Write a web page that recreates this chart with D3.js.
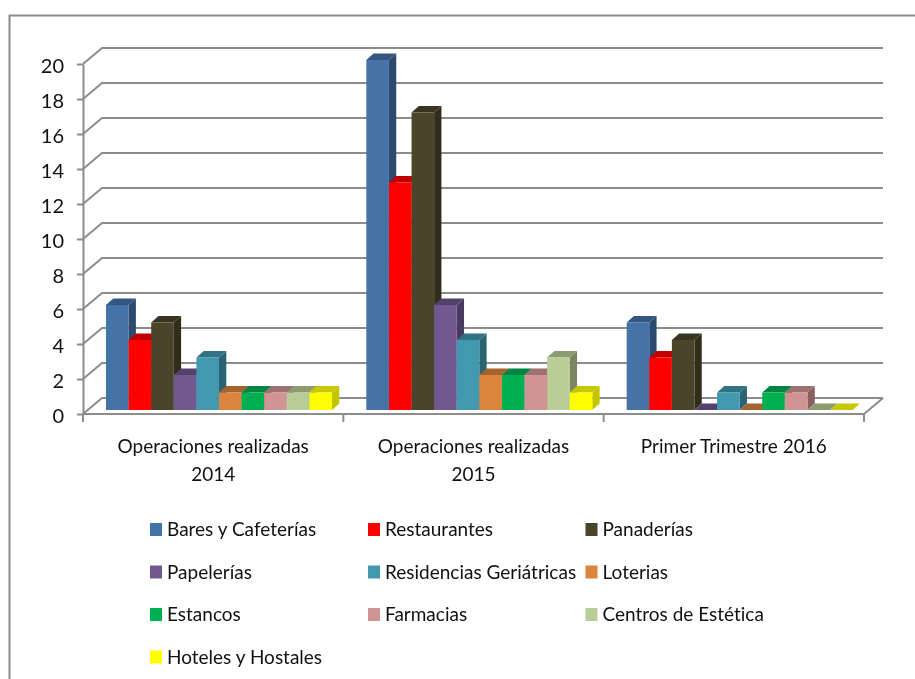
<!DOCTYPE html>
<html>
<head>
<meta charset="utf-8">
<script src="https://cdn.jsdelivr.net/npm/d3@7/dist/d3.min.js"></script>
<style>
  html, body { margin: 0; padding: 0; background: #fff; overflow: hidden; }
  svg { display: block; filter: blur(0.45px); }
  text { font-family: Lato, "Open Sans", sans-serif; fill: #111; font-variant-ligatures: none; }
</style>
</head>
<body>
<svg id="chart" width="915" height="679"></svg>
<script>
var categories = [['Operaciones realizadas', '2014'], ['Operaciones realizadas', '2015'], ['Primer Trimestre 2016']];
var seriesNames = ['Bares y Cafeterías', 'Restaurantes', 'Panaderías', 'Papelerías', 'Residencias Geriátricas', 'Loterias', 'Estancos', 'Farmacias', 'Centros de Estética', 'Hoteles y Hostales'];
var values2014 = [6, 4, 5, 2, 3, 1, 1, 1, 1, 1];
var values2015 = [20, 13, 17, 6, 4, 2, 2, 2, 3, 1];
var values2016 = [5, 3, 4, 0, 1, 0, 1, 1, 0, 0];
var frontColors = ['#4572a7', '#ff0000', '#4a452a', '#71588f', '#4198af', '#db843d', '#00b050', '#d09494', '#b9cd96', '#ffff00'];
var sideColors = ['#2c4a6e', '#a60000', '#312d1b', '#4a3a5e', '#2a6372', '#8f5628', '#007334', '#886060', '#798662', '#c4c400'];
var topColors = ['#345681', '#c00000', '#38341f', '#55426c', '#317284', '#a5632e', '#008442', '#a07070', '#8c9b71', '#c8c800'];
var yTicks = d3.range(0, 21, 2);

var svg = d3.select('#chart');

var axisX0 = 83, axisX1 = 864, axisY0 = 414, axisY20 = 64;
var depthX = 19, depthY = 16;   // floor depth
var barDepthX = 7.3, barDepthY = 6.5;
var textSize = 20, textSquash = 0.95;

var x = d3.scaleBand().domain([0, 1, 2]).range([axisX0, axisX1]);
var y = d3.scaleLinear().domain([0, 20]).range([axisY0, axisY20]);
var xInner = d3.scaleBand().domain(d3.range(seriesNames.length)).range([23, 249]);
var gridColor = '#8c8c8c';

function label(px, py, str, anchor) {
  return svg.append('text')
    .attr('transform', 'translate(' + px + ',' + py + ') scale(' + textSquash + ',1)')
    .attr('text-anchor', anchor)
    .attr('font-size', textSize)
    .text(str);
}

// outer frame, only top and left show
svg.append('path')
  .attr('d', 'M9.5,679V15.5H915')
  .attr('fill', 'none').attr('stroke', gridColor).attr('stroke-width', 2);

// back wall lines
var grid = svg.append('g').attr('fill', 'none').attr('stroke', gridColor).attr('stroke-width', 2);
yTicks.forEach(function(t) {
  grid.append('path').attr('d', d3.line()([
    [axisX0, y(t)], [axisX0 + depthX, y(t) - depthY], [axisX1 + depthX, y(t) - depthY]
  ]));
});
// floor
grid.append('path').attr('d', d3.line()([
  [axisX0, axisY0], [axisX1, axisY0], [axisX1 + depthX, axisY0 - depthY]
]));

// axes
var yAxis = d3.axisLeft(y).tickValues(yTicks).tickSize(6).tickPadding(13).tickSizeOuter(0);
var yG = svg.append('g').attr('transform', 'translate(' + axisX0 + ',0)').call(yAxis);
yG.selectAll('line, path').attr('stroke', gridColor).attr('stroke-width', 2);
yG.selectAll('text').attr('font-size', textSize).attr('fill', '#111').attr('dy', '0.4em');

var xTicks = svg.append('g').attr('stroke', gridColor).attr('stroke-width', 2);
[0, 1, 2].forEach(function(c) {
  xTicks.append('line').attr('x1', x(c)).attr('x2', x(c)).attr('y1', axisY0).attr('y2', axisY0 + 8);
});
xTicks.append('line').attr('x1', axisX1).attr('x2', axisX1).attr('y1', axisY0).attr('y2', axisY0 + 8);

// category labels
categories.forEach(function(lines, c) {
  lines.forEach(function(line, i) {
    label(x(c) + x.bandwidth() / 2, 453 + i * 28, line, 'middle');
  });
});

// bars, drawn left to right so the next front covers the previous side
var baseY = y(0) - 4;
function drawBars(values, c) {
  var g = svg.append('g');
  values.forEach(function(v, i) {
    var x0 = x(c) + xInner(i), x1 = x0 + xInner.bandwidth();
    var top = baseY - (y(0) - y(v));
    g.append('path').attr('fill', sideColors[i]).attr('d', d3.line()([
      [x1, top], [x1 + barDepthX, top - barDepthY], [x1 + barDepthX, baseY - barDepthY], [x1, baseY]
    ]) + 'Z');
    g.append('path').attr('fill', topColors[i]).attr('d', d3.line()([
      [x0, top], [x0 + barDepthX, top - barDepthY], [x1 + barDepthX, top - barDepthY], [x1, top]
    ]) + 'Z');
    g.append('rect').attr('x', x0).attr('y', top)
      .attr('width', xInner.bandwidth()).attr('height', baseY - top)
      .attr('fill', frontColors[i]);
  });
}
drawBars(values2014, 0);
drawBars(values2015, 1);
drawBars(values2016, 2);

// legend
var legendCols = [150, 368, 585.5];
var legendRows = [529.5, 572, 614.5, 657];
seriesNames.forEach(function(name, i) {
  var lx = legendCols[i % 3], ly = legendRows[Math.floor(i / 3)];
  svg.append('rect').attr('x', lx).attr('y', ly - 6.5).attr('width', 12).attr('height', 13).attr('fill', frontColors[i]);
  label(lx + 17, ly + 6.5, name, 'start');
});
</script>
</body>
</html>
